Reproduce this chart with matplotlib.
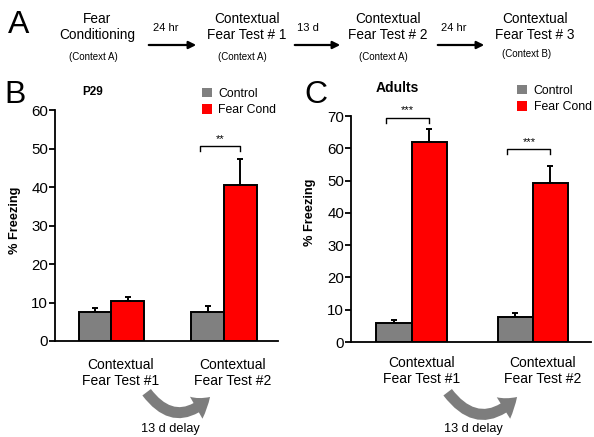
import matplotlib
matplotlib.use("Agg")
import matplotlib.pyplot as plt
import numpy as np
from matplotlib.patches import Patch, FancyArrowPatch

plt.rcParams["font.family"] = ["Liberation Sans", "DejaVu Sans"]

W, H = 594, 437

# data
series = ["Control", "Fear Cond"]
colors = ["#808080", "#ff0000"]
tests = ["Contextual\nFear Test #1", "Contextual\nFear Test #2"]

p29_control = [7.5, 7.5]
p29_control_err = [1.0, 1.5]
p29_fear = [10.3, 40.4]
p29_fear_err = [1.2, 6.8]

adult_control = [6.0, 7.8]
adult_control_err = [0.7, 1.2]
adult_fear = [62.0, 49.2]
adult_fear_err = [3.9, 5.3]

p29_sig = [(1, 50.6, "**")]
adult_sig = [(0, 69.5, "***"), (1, 59.7, "***")]

# timeline (panel A)
stages = ["Fear\nConditioning", "Contextual\nFear Test # 1",
          "Contextual\nFear Test # 2", "Contextual\nFear Test # 3"]
contexts = ["(Context A)", "(Context A)", "(Context A)", "(Context B)"]
intervals = ["24 hr", "13 d", "24 hr"]


def fx(x):
    return x / W


def fy(y):
    return 1 - y / H


fig = plt.figure(figsize=(W / 100, H / 100), dpi=100)

# ---- panel A -------------------------------------------------------------
fig.text(fx(19), fy(25), "A", fontsize=23, ha="center", va="center")
stage_x = [97, 247, 388, 535]
ctx_x = [93, 242, 383, 527]
ctx_y = [57, 57, 57, 54]
for i, s in enumerate(stages):
    fig.text(fx(stage_x[i]), fy(27), s, fontsize=9.8, ha="center", va="center",
             linespacing=1.25)
    fig.text(fx(ctx_x[i]), fy(ctx_y[i]), contexts[i], fontsize=7, ha="center",
             va="center")
arrow_x = [(146, 199), (292, 343), (435, 487)]
label_x = [166, 308, 454]
for i, lab in enumerate(intervals):
    x0, x1 = arrow_x[i]
    fig.add_artist(FancyArrowPatch((fx(x0), fy(45)), (fx(x1), fy(45)),
                                   transform=fig.transFigure, arrowstyle="-|>",
                                   mutation_scale=11, lw=1.6, color="black"))
    fig.text(fx(label_x[i]), fy(28), lab, fontsize=8, ha="center", va="center")


def bar_panel(rect, control, control_err, fear, fear_err, ymax, sigs, label_y):
    ax = fig.add_axes(rect)
    x = np.arange(len(tests))
    w = 0.29
    vals = [control, fear]
    errs = [control_err, fear_err]
    for k in range(2):
        xs = x + (k - 0.5) * w
        ax.bar(xs, vals[k], w, color=colors[k], edgecolor="black", lw=1.4, zorder=3)
        ax.errorbar(xs, vals[k], yerr=[np.zeros(len(x)), errs[k]], fmt="none",
                    ecolor="black", elinewidth=1.4, capsize=2.5, capthick=1.4,
                    zorder=2)
    ax.set_xlim(-0.5, 1.48)
    ax.set_ylim(0, ymax)
    ax.set_yticks(np.arange(0, ymax + 1, 10))
    ax.set_xticks([])
    for sp in ["top", "right"]:
        ax.spines[sp].set_visible(False)
    for sp in ["left", "bottom"]:
        ax.spines[sp].set_linewidth(1.3)
    ax.tick_params(axis="y", labelsize=10.8, length=4, width=1.3, pad=1)
    ax.set_ylabel("% Freezing", fontsize=9.2, fontweight="bold")
    for i, t in enumerate(tests):
        ax.text(x[i] + 0.08, label_y, t, transform=ax.get_xaxis_transform(),
                ha="center", va="center", fontsize=10, linespacing=1.2)
    d = ymax * 0.022
    for pos, y, s in sigs:
        x0, x1 = pos - 0.21, pos + w / 2
        ax.plot([x0, x0, x1, x1], [y - d, y, y, y - d], color="black", lw=1,
                clip_on=False)
        ax.annotate(s, xy=((x0 + x1) / 2, y), xytext=(0, 1.5),
                    textcoords="offset points", ha="center", va="bottom",
                    fontsize=8)
    return ax


axB = bar_panel([fx(55), fy(341), fx(278) - fx(55), fy(110) - fy(341)],
                p29_control, p29_control_err, p29_fear, p29_fear_err, 60,
                p29_sig, -0.14)
axB.yaxis.set_label_coords(-0.152, 0.524)

axC = bar_panel([fx(351), fy(342), fx(591) - fx(351), fy(116) - fy(342)],
                adult_control, adult_control_err, adult_fear, adult_fear_err, 70,
                adult_sig, -0.127)
axC.yaxis.set_label_coords(-0.146, 0.575)

# legends
for ax, (lx, ly) in [(axB, (202, 88)), (axC, (517, 85))]:
    handles = [Patch(facecolor=c, edgecolor="none") for c in colors]
    ax.legend(handles, series, loc="upper left", bbox_to_anchor=(fx(lx), fy(ly)),
              bbox_transform=fig.transFigure, frameon=False, fontsize=8.8,
              handlelength=0.8, handleheight=0.8, handletextpad=0.55,
              labelspacing=0.35, borderaxespad=0, borderpad=0)

# panel letters and titles
fig.text(fx(15), fy(95), "B", fontsize=23, ha="center", va="center")
fig.text(fx(316), fy(95), "C", fontsize=23, ha="center", va="center")
fig.text(fx(82), fy(92), "P29", fontsize=8.5, fontweight="bold", ha="left",
         va="center")
fig.text(fx(376), fy(88), "Adults", fontsize=10, fontweight="bold", ha="left",
         va="center")

# delay arrows (swoop down then up)
for (x0, x1), tx in [((145, 212), 170), ((446, 519), 473)]:
    fig.add_artist(FancyArrowPatch((fx(x0), fy(390)), (fx(x1), fy(395)),
                                   transform=fig.transFigure,
                                   connectionstyle="arc3,rad=0.6",
                                   arrowstyle="simple,head_length=0.9,head_width=1.3,tail_width=0.55",
                                   mutation_scale=14, color="#7d7d7d", lw=0))
    fig.text(fx(tx), fy(429), "13 d delay", fontsize=9.2, ha="center",
             va="center")

fig.savefig("out.png", dpi=100)
